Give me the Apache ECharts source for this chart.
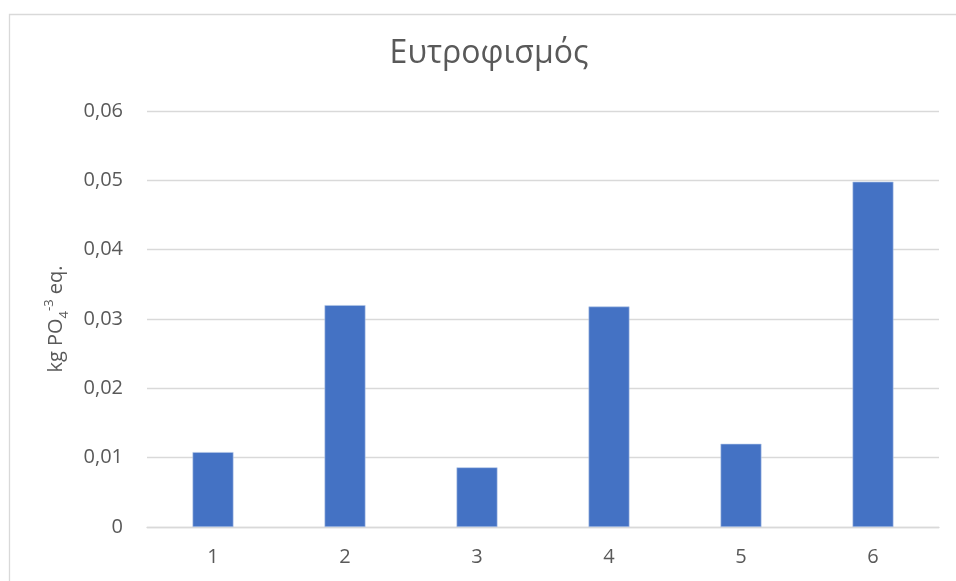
<!DOCTYPE html>
<html>
<head>
<meta charset="utf-8">
<script src="https://cdn.jsdelivr.net/npm/echarts@6/dist/echarts.min.js"></script>
<style>
  html, body { margin: 0; padding: 0; background: #ffffff; }
  #chart { width: 956px; height: 581px; }
</style>
</head>
<body>
<div id="chart"></div>
<script>
// Eutrophication potential per scenario (kg PO4^-3 eq.)
const categories = ['1', '2', '3', '4', '5', '6'];
const values = [0.0108, 0.0320, 0.0086, 0.0318, 0.0120, 0.0498];
const yTicks = { min: 0, max: 0.06, interval: 0.01 };

const FONT = '"Open Sans", "Noto Sans", sans-serif';
const TEXT = '#595959';
const GRID = '#d9d9d9';

const chart = echarts.init(document.getElementById('chart'), null, { renderer: 'canvas' });

chart.setOption({
  backgroundColor: '#ffffff',
  animation: false,
  title: {
    text: 'Ευτροφισμός',
    left: 484,
    top: 33,
    textAlign: 'center',
    textStyle: { fontFamily: FONT, fontSize: 32, fontWeight: 'normal', color: TEXT }
  },
  graphic: [{
    type: 'rect',
    left: 7,
    top: 12,
    shape: { width: 1000, height: 1000 },
    style: { fill: 'none', stroke: GRID, lineWidth: 1.3 },
    silent: true
  }],
  grid: { left: 147, right: 17, top: 111, bottom: 54, containLabel: false },
  xAxis: {
    type: 'category',
    data: categories,
    axisLine: { show: true, lineStyle: { color: GRID, width: 1.3 } },
    axisTick: { show: false },
    axisLabel: { color: TEXT, fontFamily: FONT, fontSize: 20, margin: 20 }
  },
  yAxis: {
    type: 'value',
    min: yTicks.min,
    max: yTicks.max,
    interval: yTicks.interval,
    name: '{n|kg PO}{sub|4}{sup|-3}{n| eq.}',
    nameLocation: 'middle',
    nameRotate: 90,
    nameGap: 70,
    nameTextStyle: {
      color: TEXT,
      fontFamily: FONT,
      rich: {
        n: { fontSize: 20, color: TEXT, fontFamily: FONT, lineHeight: 32, verticalAlign: 'middle' },
        sub: { fontSize: 13, color: TEXT, fontFamily: FONT, lineHeight: 32, verticalAlign: 'bottom', padding: [0, 0, 2, 0] },
        sup: { fontSize: 13, color: TEXT, fontFamily: FONT, lineHeight: 32, verticalAlign: 'top', padding: [2, 0, 0, 0] }
      }
    },
    axisLine: { show: false },
    axisTick: { show: false },
    splitLine: { show: true, lineStyle: { color: GRID, width: 1.3 } },
    axisLabel: {
      color: TEXT,
      fontFamily: FONT,
      fontSize: 20,
      margin: 24,
      formatter: function (v) {
        return v === 0 ? '0' : v.toFixed(2).replace('.', ',');
      }
    }
  },
  series: [{
    type: 'bar',
    data: values,
    barWidth: '31%',
    itemStyle: { color: '#4472C4', borderColor: '#b4c7e7', borderWidth: 0.6 }
  }]
});
</script>
</body>
</html>
